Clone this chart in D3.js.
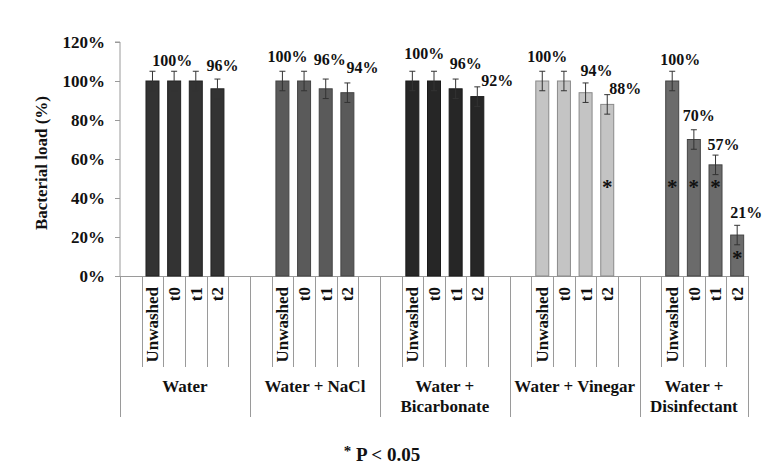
<!DOCTYPE html>
<html>
<head>
<meta charset="utf-8">
<script src="https://cdn.jsdelivr.net/npm/d3@7"></script>
<style>
  body { margin: 0; background: #fff; }
  text { font-family: "Liberation Serif", "Times New Roman", serif; font-weight: bold; fill: #111; }
</style>
</head>
<body>
<svg id="vis" width="765" height="475"></svg>
<script>
// data
const groups = ["Water", "Water + NaCl", "Water + Bicarbonate", "Water + Vinegar", "Water + Disinfectant"];
const groupLines = [["Water"], ["Water + NaCl"], ["Water +", "Bicarbonate"], ["Water + Vinegar"], ["Water +", "Disinfectant"]];
const times = ["Unwashed", "t0", "t1", "t2"];
const water = [100, 100, 100, 96];
const nacl = [100, 100, 96, 94];
const bicarb = [100, 100, 96, 92];
const vinegar = [100, 100, 94, 88];
const disinf = [100, 70, 57, 21];
const errors = [5, 5, 5, 5];            // same +/- for every bar
const significant = [[], [], [], ["t2"], ["Unwashed", "t0", "t1", "t2"]];
const yTicks = [0, 20, 40, 60, 80, 100, 120];

// which bars carry a value label, and how the label was nudged in the original
const labelNudge = [
  [null, [-2, -5], null, [5, -8]],
  [[5, -9], null, [4, -14], [15, -10]],
  [[12, -12], null, [10, -10], [20, -1]],
  [[5, -9], null, [11, -7], [18, -1]],
  [[8, -6], [5, -9], [8, -5], [9, -7]]
];
const groupColor = ["#333333", "#5a5a5a", "#262626", "#c4c4c4", "#6b6b6b"];
const groupStroke = ["#222", "#444", "#1a1a1a", "#8a8a8a", "#444"];

const series = [water, nacl, bicarb, vinegar, disinf];

const svg = d3.select("#vis");
const plotLeft = 120, plotRight = 748, plotTop = 42, plotBottom = 276;

// every group gets a blank slot either side of its four bars (the last one loses the trailing blank)
let slots = [];
groups.forEach((g, gi) => {
  slots.push(g + "|a");
  times.forEach(t => slots.push(g + "|" + t));
  if (gi < groups.length - 1) slots.push(g + "|b");
});

const x = d3.scaleBand().domain(slots).range([plotLeft, plotRight]).padding(0);
const y = d3.scaleLinear().domain([0, 120]).range([plotBottom, plotTop]);
const bw = x.bandwidth() * 0.6;

let bars = [];
groups.forEach((g, gi) => {
  times.forEach((t, ti) => {
    bars.push({
      group: g, gi: gi, time: t, key: g + "|" + t,
      value: series[gi][ti], err: errors[ti],
      star: significant[gi].includes(t),
      nudge: labelNudge[gi][ti]
    });
  });
});

// y axis
const yAxis = d3.axisLeft(y).tickValues(yTicks).tickSize(5).tickPadding(10)
  .tickFormat(d => d + "%");
const ya = svg.append("g").attr("transform", `translate(${plotLeft},0)`).call(yAxis);
ya.select(".domain").attr("stroke", "#9a9a9a").attr("d", `M-5,${plotTop}H0V${plotBottom}`);
ya.selectAll(".tick line").attr("stroke", "#9a9a9a");
ya.selectAll(".tick text").style("font-size", "17px").attr("font-family", null).attr("fill", "#111");

svg.append("text")
  .attr("transform", `translate(47,${(plotTop + plotBottom) / 2 + 4}) rotate(-90)`)
  .attr("text-anchor", "middle")
  .style("font-size", "17px")
  .text("Bacterial load (%)");

// category axis: short lines between slots, long lines between groups
const axisG = svg.append("g").attr("stroke", "#9a9a9a").attr("stroke-width", 1);
axisG.append("line").attr("x1", plotLeft).attr("x2", plotRight).attr("y1", plotBottom + 0.5).attr("y2", plotBottom + 0.5);
slots.forEach(s => {
  const xs = Math.round(x(s)) + 0.5;
  const isGroupEdge = s.endsWith("|a");
  axisG.append("line")
    .attr("x1", xs).attr("x2", xs)
    .attr("y1", plotBottom).attr("y2", isGroupEdge ? 417 : 367);
});
axisG.append("line")
  .attr("x1", plotRight + 0.5).attr("x2", plotRight + 0.5)
  .attr("y1", plotBottom).attr("y2", 417);

// rotated time labels
svg.append("g").selectAll("text")
  .data(bars)
  .join("text")
  .attr("transform", d => `translate(${x(d.key) + x.bandwidth() / 2},${plotBottom + 11}) rotate(-90)`)
  .attr("text-anchor", "end")
  .attr("dy", "0.35em")
  .style("font-size", "17px")
  .text(d => d.time);

// group labels
groups.forEach((g, gi) => {
  const gx = (x(g + "|a") + (gi < groups.length - 1 ? x(g + "|b") + x.bandwidth() : plotRight)) / 2;
  const t = svg.append("text")
    .attr("x", gx).attr("y", 392)
    .attr("text-anchor", "middle")
    .style("font-size", "17px");
  groupLines[gi].forEach((line, li) => {
    t.append("tspan").attr("x", gx).attr("dy", li === 0 ? 0 : 20).text(line);
  });
});

// bars
svg.append("g").selectAll("rect")
  .data(bars)
  .join("rect")
  .attr("x", d => x(d.key) + (x.bandwidth() - bw) / 2)
  .attr("y", d => y(d.value))
  .attr("width", bw)
  .attr("height", d => plotBottom - y(d.value))
  .attr("fill", d => groupColor[d.gi])
  .attr("stroke", d => groupStroke[d.gi])
  .attr("stroke-width", 1);

// error bars
const eb = svg.append("g").attr("stroke", "#333").attr("stroke-width", 1);
bars.forEach(d => {
  const cx = x(d.key) + x.bandwidth() / 2;
  eb.append("line").attr("x1", cx).attr("x2", cx).attr("y1", y(d.value + d.err)).attr("y2", y(d.value - d.err));
  [d.value + d.err, d.value - d.err].forEach(v => {
    eb.append("line").attr("x1", cx - 3).attr("x2", cx + 3).attr("y1", y(v)).attr("y2", y(v));
  });
});

// value labels
svg.append("g").selectAll("text")
  .data(bars.filter(d => d.nudge))
  .join("text")
  .attr("x", d => x(d.key) + x.bandwidth() / 2 + d.nudge[0])
  .attr("y", d => y(d.value + d.err) + d.nudge[1])
  .attr("text-anchor", "middle")
  .style("font-size", "16px")
  .text(d => d.value + "%");

// significance stars: one common height, or half-way up a bar that is too short for it
const starLevel = 47;
svg.append("g").selectAll("text")
  .data(bars.filter(d => d.star))
  .join("text")
  .attr("x", d => x(d.key) + x.bandwidth() / 2)
  .attr("y", d => y(d.value > starLevel ? starLevel : d.value / 2))
  .attr("dy", "0.45em")
  .attr("text-anchor", "middle")
  .style("font-size", "21px")
  .text("*");

// footnote
const note = svg.append("text")
  .attr("x", 382).attr("y", 461)
  .attr("text-anchor", "middle")
  .style("font-size", "19px");
note.append("tspan").attr("dy", -5).style("font-size", "15px").text("*");
note.append("tspan").attr("dy", 5).text(" P < 0.05");
</script>
</body>
</html>
